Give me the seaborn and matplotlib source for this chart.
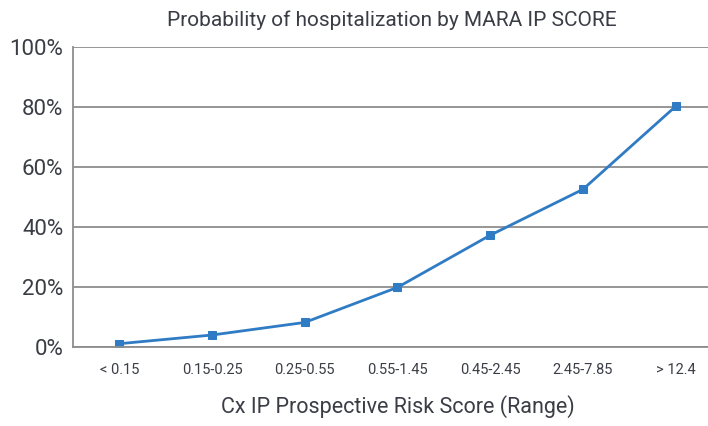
import numpy as np
import pandas as pd
import matplotlib
matplotlib.use("Agg")
import matplotlib.pyplot as plt
import seaborn as sns
from matplotlib.ticker import FixedLocator, PercentFormatter

categories = ["< 0.15", "0.15-0.25", "0.25-0.55", "0.55-1.45", "0.45-2.45", "2.45-7.85", "> 12.4"]
probability = [1.0, 3.9, 8.1, 19.8, 37.2, 52.5, 80.2]

sns.set_style("white")
plt.rcParams['font.family'] = ['Roboto', 'DejaVu Sans']

df = pd.DataFrame({'pos': np.arange(len(categories)), 'prob': probability})

fig = plt.figure(figsize=(7.08, 4.26), dpi=100)
ax = fig.add_axes([73 / 708, 79.3 / 426, 649 / 708, 299.7 / 426])

line_color = '#2f7bc4'
sns.lineplot(data=df, x='pos', y='prob', ax=ax, color=line_color, linewidth=2,
             marker='s', markersize=6, markeredgecolor=line_color, sort=False)

ax.set_xlim(-0.5, len(categories) - 0.5)
ax.set_ylim(0, 100)
ax.set_yticks(np.arange(0, 101, 20))
ax.yaxis.set_major_formatter(PercentFormatter(decimals=0))
ax.grid(axis='y', color='#8e8e8e', linewidth=1.3)
ax.set_axisbelow(True)

ax.set_xticks(np.arange(len(categories)))
ax.set_xticklabels(categories, fontsize=10.5, color='#3a3d45')
ax.xaxis.set_minor_locator(FixedLocator(np.arange(0.5, len(categories) - 0.5, 1)))
ax.tick_params(axis='x', which='major', length=0, pad=12)
ax.tick_params(axis='x', which='minor', length=8, width=1, color='#8e8e8e', direction='out')
ax.tick_params(axis='y', length=0, pad=7, labelsize=16, labelcolor='#3a3d45')

for side in ['top', 'right']:
    ax.spines[side].set_visible(False)
for side in ['left', 'bottom']:
    ax.spines[side].set_color('#8e8e8e')
    ax.spines[side].set_linewidth(1.3)

ax.set_xlabel("Cx IP Prospective Risk Score (Range)", fontsize=15.5, color='#3a3d45', labelpad=13)
ax.set_ylabel("")
fig.text(392 / 708, 1 - 20 / 426, "Probability of hospitalization by MARA IP SCORE",
         ha='center', va='center', fontsize=15, color='#3a3d45')

fig.savefig("out.png", dpi=100)
